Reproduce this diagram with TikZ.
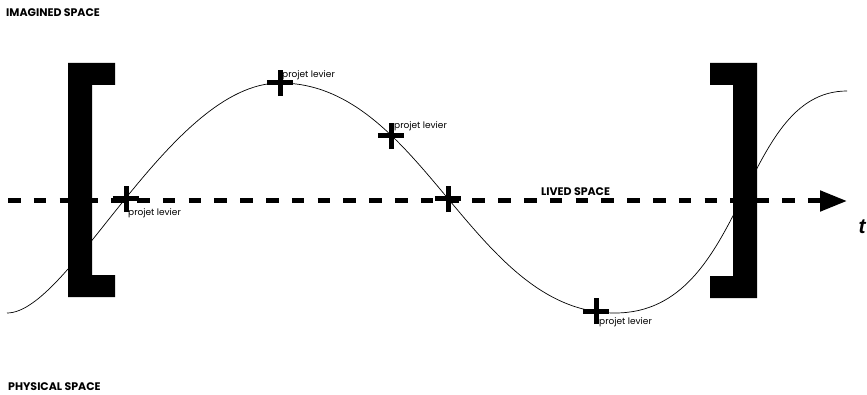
\documentclass[tikz,border=0pt]{standalone}
\usepackage{fontspec}
\setmainfont{Poppins}
\newfontfamily\tfont{Liberation Sans}
\usetikzlibrary{shapes,arrows.meta}

\begin{document}
\begin{tikzpicture}[x=1pt,y=1pt]
%%%%%%%%%%%%%%%%%%%%%%%%%%%%%%%%%%%%%%%%%%%%%%%%%%%%%%%%%%%%%%
%styles
\tikzstyle{crossmark}=[cross out,rotate=45,draw=black,line width=5pt,minimum size=18.4pt,inner sep=0pt,outer sep=0pt]
\tikzstyle{projlabel}=[anchor=west,inner sep=0pt,font=\fontsize{9}{9}\selectfont]
\tikzstyle{spacelabel}=[anchor=base west,inner sep=0pt,font=\bfseries\fontsize{11}{11}\selectfont]
\tikzstyle{bracket}=[fill=black]
\tikzstyle{wave}=[line width=0.7pt]
\tikzstyle{axis}=[line width=5pt,dash pattern=on 12.5pt off 13.3pt,-{Triangle[length=27pt,width=20pt]}]
\useasboundingbox (0,0) rectangle (867,394);
%coordinates
\coordinate (axisstart) at (8,193);
\coordinate (axisend) at (847,193);
\coordinate (wavestart) at (7,81);
\coordinate (trough) at (615,81);
\coordinate (waveend) at (847,303);
%nodes
\node[crossmark] (proj1) at (280,311) {};
\node[crossmark] (proj2) at (391,258) {};
\node[crossmark] (proj3) at (126,195) {};
\node[crossmark] (lived) at (448,195) {};
\node[crossmark] (proj4) at (596,83) {};
%%labels
\node[projlabel] (lab1) at (282,319) {projet levier};
\node[projlabel] (lab2) at (394,268) {projet levier};
\node[projlabel] (lab3) at (128,181) {projet levier};
\node[projlabel] (lab4) at (599,72) {projet levier};
\node[spacelabel] (imagined) at (6,377) {IMAGINED SPACE};
\node[spacelabel] (livedspace) at (541,198) {LIVED SPACE};
\node[spacelabel] (physical) at (8,4) {PHYSICAL SPACE};
\node[font=\tfont\bfseries\itshape\fontsize{21}{21}\selectfont,inner sep=0pt] (time) at (862,167) {t};
%%%%%%%%%%%%%%%%%%%%%%%%%%%%%%%%%%%%%%%%%%%%%%%%%%%%%%%%%%%%%%
%WAVE
\draw[wave] (wavestart) .. controls +(63,0) and +(-110,0) .. (proj1.center)
  .. controls +(143,0) and +(-143,0) .. (trough)
  .. controls +(133,0) and +(-109,0) .. (waveend);
%ARROW
\draw[axis] (axisstart) -- (axisend);
%brackets
\fill[bracket] (68,331) -- (115,331) -- (115,309) -- (92,309) -- (92,119) -- (115,119) -- (115,97) -- (68,97) -- cycle;
\fill[bracket] (757,331) -- (710,331) -- (710,309) -- (733,309) -- (733,118) -- (710,118) -- (710,96) -- (757,96) -- cycle;
\end{tikzpicture}
\end{document}
